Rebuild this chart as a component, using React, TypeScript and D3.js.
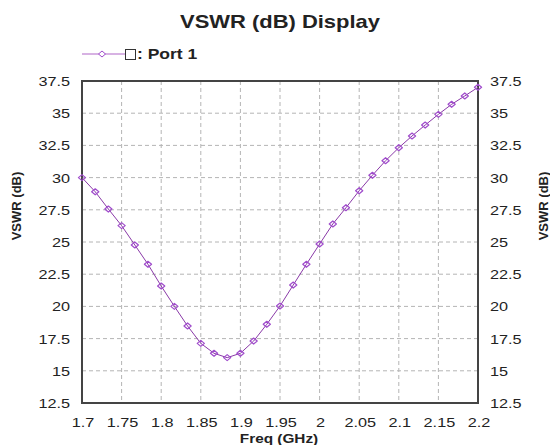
import React from "react";
import * as d3 from "d3";

const freqGHz = [
  1.7, 1.7167, 1.7333, 1.75, 1.7667, 1.7833, 1.8, 1.8167, 1.8333, 1.85, 1.8667,
  1.8833, 1.9, 1.9167, 1.9333, 1.95, 1.9667, 1.9833, 2.0, 2.0167, 2.0333, 2.05,
  2.0667, 2.0833, 2.1, 2.1167, 2.1333, 2.15, 2.1667, 2.1833, 2.2,
];
const vswrDb = [
  30.0, 28.9, 27.56, 26.27, 24.77, 23.27, 21.58, 20.0, 18.48, 17.13, 16.36,
  16.02, 16.36, 17.31, 18.61, 20.03, 21.66, 23.27, 24.84, 26.4, 27.66, 28.98,
  30.18, 31.31, 32.32, 33.23, 34.08, 34.91, 35.69, 36.34, 37.01,
];
const xTicks = [1.7, 1.75, 1.8, 1.85, 1.9, 1.95, 2.0, 2.05, 2.1, 2.15, 2.2];
const xTickLabels = ["1.7", "1.75", "1.8", "1.85", "1.9", "1.95", "2", "2.05", "2.1", "2.15", "2.2"];
const yTicks = [12.5, 15, 17.5, 20, 22.5, 25, 27.5, 30, 32.5, 35, 37.5];
const yTickLabels = ["12.5", "15", "17.5", "20", "22.5", "25", "27.5", "30", "32.5", "35", "37.5"];
const seriesName = ": Port 1";

const W = 550;
const H = 445;
const plot = { left: 82, right: 478, top: 81, bottom: 403 };
const font = "'Liberation Sans', Arial, sans-serif";
const sx = 1.25; // the reference text is stretched sideways
const lineColor = "#8a3aa8";
const markColor = "#a04ccc";
const gridColor = "#b4b4b4";

function Txt({
  x,
  y,
  anchor = "middle",
  size = 13,
  bold = false,
  scale = sx,
  children,
}: {
  x: number;
  y: number;
  anchor?: string;
  size?: number;
  bold?: boolean;
  scale?: number;
  children: React.ReactNode;
}) {
  return (
    <text
      transform={`translate(${x},${y}) scale(${scale},1)`}
      textAnchor={anchor}
      fontFamily={font}
      fontSize={size}
      fontWeight={bold ? "bold" : "normal"}
      fill="#222"
    >
      {children}
    </text>
  );
}

export default function App() {
  const x = d3.scaleLinear().domain([1.7, 2.2]).range([plot.left, plot.right]);
  const y = d3.scaleLinear().domain([12.5, 37.5]).range([plot.bottom, plot.top]);

  const pts = freqGHz.map((f, i) => [f, vswrDb[i]] as [number, number]);
  const line = d3
    .line<[number, number]>()
    .x((d) => x(d[0]))
    .y((d) => y(d[1]));

  // squashed diamond, looks like the little ovals in the original
  const marker = (cx: number, cy: number, rx: number, ry: number) =>
    `M${cx},${cy - ry}L${cx + rx},${cy}L${cx},${cy + ry}L${cx - rx},${cy}Z`;

  const midY = 206;

  return (
    <svg
      width={W}
      height={H}
      style={{ position: "absolute", left: 0, top: 0, background: "#fff" }}
    >
      <rect width={W} height={H} fill="#fff" />

      {/* title */}
      <Txt x={280} y={28} size={18} bold scale={1.22}>
        VSWR (dB) Display
      </Txt>

      {/* legend */}
      <line x1={82} x2={125} y1={54} y2={54} stroke="#b066c8" strokeWidth={1.2} />
      <path d={marker(102, 54, 3.5, 3)} fill="#fff" stroke={markColor} strokeWidth={1} strokeLinejoin="round" />
      <rect x={125.5} y={49.5} width={10} height={10} fill="#fff" stroke="#333" strokeWidth={1} />
      <Txt x={137} y={59} size={14} bold anchor="start">
        {seriesName}
      </Txt>

      {/* grid */}
      {xTicks.slice(1, -1).map((t) => (
        <line
          key={"gx" + t}
          x1={x(t)}
          x2={x(t)}
          y1={plot.top}
          y2={plot.bottom}
          stroke={gridColor}
          strokeDasharray="4,3"
        />
      ))}
      {yTicks.slice(1, -1).map((t) => (
        <line
          key={"gy" + t}
          x1={plot.left}
          x2={plot.right}
          y1={y(t)}
          y2={y(t)}
          stroke={gridColor}
          strokeDasharray="4,3"
        />
      ))}

      {/* frame */}
      <rect
        x={plot.left}
        y={plot.top}
        width={plot.right - plot.left}
        height={plot.bottom - plot.top}
        fill="none"
        stroke="#444"
        strokeWidth={2}
      />

      {/* series */}
      <path d={line(pts) ?? ""} fill="none" stroke={lineColor} strokeWidth={1} />
      {pts.map((d, i) => (
        <path
          key={"m" + i}
          d={marker(x(d[0]), y(d[1]), 3.6, 3)}
          fill="none"
          stroke={markColor}
          strokeWidth={1.2}
          strokeLinejoin="round"
        />
      ))}

      {/* y tick labels both sides */}
      {yTicks.map((t, i) => (
        <g key={"yl" + t}>
          <Txt x={70} y={y(t) + 5} anchor="end">
            {yTickLabels[i]}
          </Txt>
          <Txt x={490} y={y(t) + 5} anchor="start">
            {yTickLabels[i]}
          </Txt>
        </g>
      ))}

      {/* x tick labels */}
      {xTicks.map((t, i) => (
        <Txt key={"xl" + t} x={x(t) + 1} y={427}>
          {xTickLabels[i]}
        </Txt>
      ))}

      {/* axis titles */}
      <Txt x={279} y={443} bold scale={1.18}>
        Freq (GHz)
      </Txt>
      <text
        transform={`translate(21,${midY}) rotate(-90)`}
        textAnchor="middle"
        fontFamily={font}
        fontSize={13}
        fontWeight="bold"
        fill="#222"
      >
        VSWR (dB)
      </text>
      <text
        transform={`translate(548,${midY}) rotate(-90)`}
        textAnchor="middle"
        fontFamily={font}
        fontSize={13}
        fontWeight="bold"
        fill="#222"
      >
        VSWR (dB)
      </text>
    </svg>
  );
}
